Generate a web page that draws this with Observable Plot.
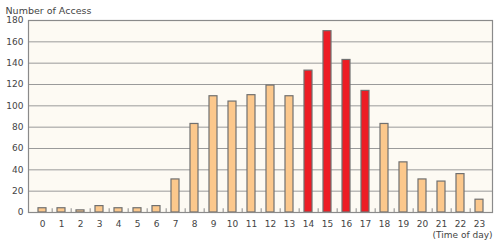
<!DOCTYPE html>
<html>
<head>
<meta charset="utf-8">
<script src="https://cdn.jsdelivr.net/npm/d3@7"></script>
<script src="https://cdn.jsdelivr.net/npm/@observablehq/plot@0.6"></script>
<style>
  html, body { margin: 0; padding: 0; background: #fff; }
  #chart svg { display: block; }
</style>
</head>
<body>
<div id="chart"></div>
<script>
const hours = [0,1,2,3,4,5,6,7,8,9,10,11,12,13,14,15,16,17,18,19,20,21,22,23];
const accesses = [4,4,2,6,4,4,6,31,83,109,104,110,119,109,133,170,143,114,83,47,31,29,36,12];
const peakHours = [14,15,16,17];
const yTicks = [0,20,40,60,80,100,120,140,160,180];
const yTitle = "Number of Access";
const xTitle = "(Time of day)";

const data = hours.map((h, i) => ({hour: h, value: accesses[i], peak: peakHours.includes(h)}));

const W = 501, H = 245;
const mL = 28, mR = 9, mT = 20, mB = 33;
const step = (W - mL - mR) / hours.length;

const chart = Plot.plot({
  width: W,
  height: H,
  marginLeft: mL,
  marginRight: mR,
  marginTop: mT,
  marginBottom: mB,
  style: {fontFamily: "DejaVu Sans, Verdana, sans-serif", fontSize: "9px", color: "#444", background: "#fff"},
  x: {type: "band", domain: hours, paddingInner: 0.58, paddingOuter: 0.29, label: null},
  y: {domain: [0, 180], label: null},
  marks: [
    Plot.frame({fill: "#fdfaf3", stroke: "none"}),
    Plot.gridY(yTicks, {stroke: "#9a9a9a", strokeOpacity: 1, strokeWidth: 1}),
    Plot.ruleX(hours.slice(0, -1), {x: d => d, dx: step / 2, y1: 0, y2: 3.5, stroke: "#8a8a8a", strokeWidth: 1}),
    Plot.barY(data, {x: "hour", y: "value", fill: d => d.peak ? "#ed1c24" : "#fcc88c", stroke: "#707070", strokeWidth: 1.2}),
    Plot.frame({stroke: "#8a8a8a", strokeWidth: 1.2}),
    Plot.axisY(yTicks, {tickSize: 0, tickPadding: 5, fontSize: 9, fill: "#444"}),
    Plot.axisX(hours, {tickSize: 0, tickPadding: 8, fontSize: 9, fill: "#444"}),
    Plot.text([yTitle], {frameAnchor: "top-left", dx: -23, dy: -13, textAnchor: "start", fontSize: 9.5, fill: "#444"}),
    Plot.text([xTitle], {frameAnchor: "bottom-right", dx: 0, dy: 25, textAnchor: "end", fontSize: 9, fill: "#444"})
  ]
});
document.getElementById("chart").appendChild(chart);
</script>
</body>
</html>
